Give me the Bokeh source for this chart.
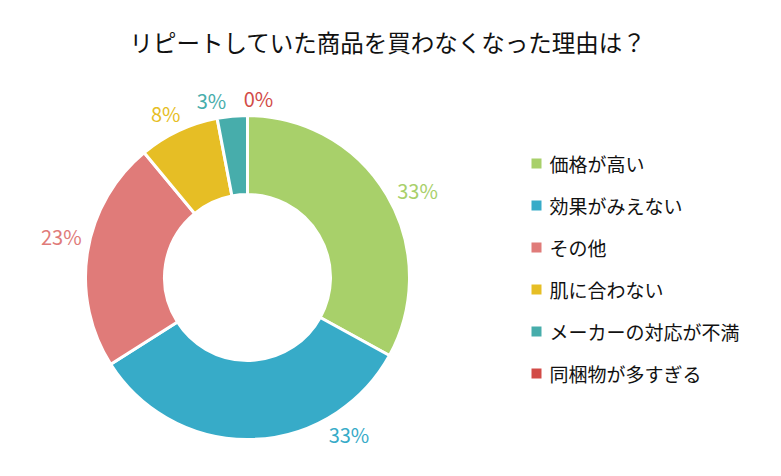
import math
from bokeh.plotting import figure
from bokeh.models import ColumnDataSource, Range1d
from bokeh.core.properties import value
from bokeh.embed import file_html
from bokeh.resources import INLINE

title = "リピートしていた商品を買わなくなった理由は？"
categories = ["価格が高い", "効果がみえない", "その他", "肌に合わない", "メーカーの対応が不満", "同梱物が多すぎる"]
values = [33, 33, 23, 8, 3, 0]
colors = ["#a8d06a", "#37abc8", "#e07b79", "#e6be25", "#47adab", "#d24b47"]

W, H = 765, 460
FONT = "Noto Sans CJK JP"
LFS = 20  # label font size (px)

p = figure(width=W, height=H, output_backend="svg", toolbar_location=None,
           x_range=Range1d(0, W), y_range=Range1d(0, H), min_border=0,
           outline_line_color=None, background_fill_color="white")
p.axis.visible = False
p.grid.visible = False

cx, cy = 247, 183
r_in, r_out = 83, 162
total = float(sum(values))

starts, ends, mids, wcols = [], [], [], []
cum = 0.0
for v, c in zip(values, colors):
    a0 = math.pi / 2 - cum / total * 2 * math.pi
    cum += v
    a1 = math.pi / 2 - cum / total * 2 * math.pi
    mids.append((cum - v / 2) / total * 360.0)  # degrees clockwise from top
    if v > 0:
        starts.append(a0)
        ends.append(a1)
        wcols.append(c)

src = ColumnDataSource(dict(start=starts, end=ends, color=wcols))
p.annular_wedge(x=cx, y=cy, inner_radius=r_in, outer_radius=r_out,
                start_angle="start", end_angle="end", direction="clock",
                fill_color="color", line_color="white", line_width=3, source=src)

labels = [f"{v}%" for v in values]
widths = [0.55 * LFS * (len(s) - 1) + 0.85 * LFS for s in labels]
hgt = 0.8 * LFS
R_anchor = 170


def place(a, w):
    t = math.radians(a)
    s, c = math.sin(t), math.cos(t)
    r = R_anchor + (w / 2) * abs(s) + (hgt / 2) * abs(c)
    return cx + r * s, cy + r * c


# label angles: slight offset, then spread neighbours backwards from the last
ang = [m + 3.5 for m in mids]
minsep = 15.0
for i in range(len(ang) - 2, -1, -1):
    if ang[i + 1] - ang[i] < minsep:
        ang[i] = ang[i + 1] - minsep

ylim = cy - 158
lx, ly = [], []
for a, w, m in zip(ang, widths, mids):
    x, y = place(a, w)
    step = -0.5 if m < 180 else 0.5
    while y < ylim:
        a += step
        x, y = place(a, w)
    lx.append(x)
    ly.append(y)

p.text(x=lx, y=ly, text=labels, text_color=colors, text_font=value(FONT),
       text_font_size=f"{LFS}px", text_align="center", text_baseline="middle")

# title
p.text(x=[W / 2 + 5], y=[H - 41], text=[title], text_font=value(FONT),
       text_font_size="23.5px", text_align="center", text_baseline="middle",
       text_color="#111111")

# legend
lg_x, lg_y0, lg_step = 536, 297, 42
ys = [lg_y0 - i * lg_step for i in range(len(categories))]
p.rect(x=[lg_x] * len(categories), y=ys, width=10, height=10,
       fill_color=colors, line_color=None)
p.text(x=[lg_x + 13] * len(categories), y=ys, text=categories,
       text_font=value(FONT), text_font_size="19px", text_align="left",
       text_baseline="middle", text_color="#111111")

open("out.html", "w").write(file_html(p, INLINE))
